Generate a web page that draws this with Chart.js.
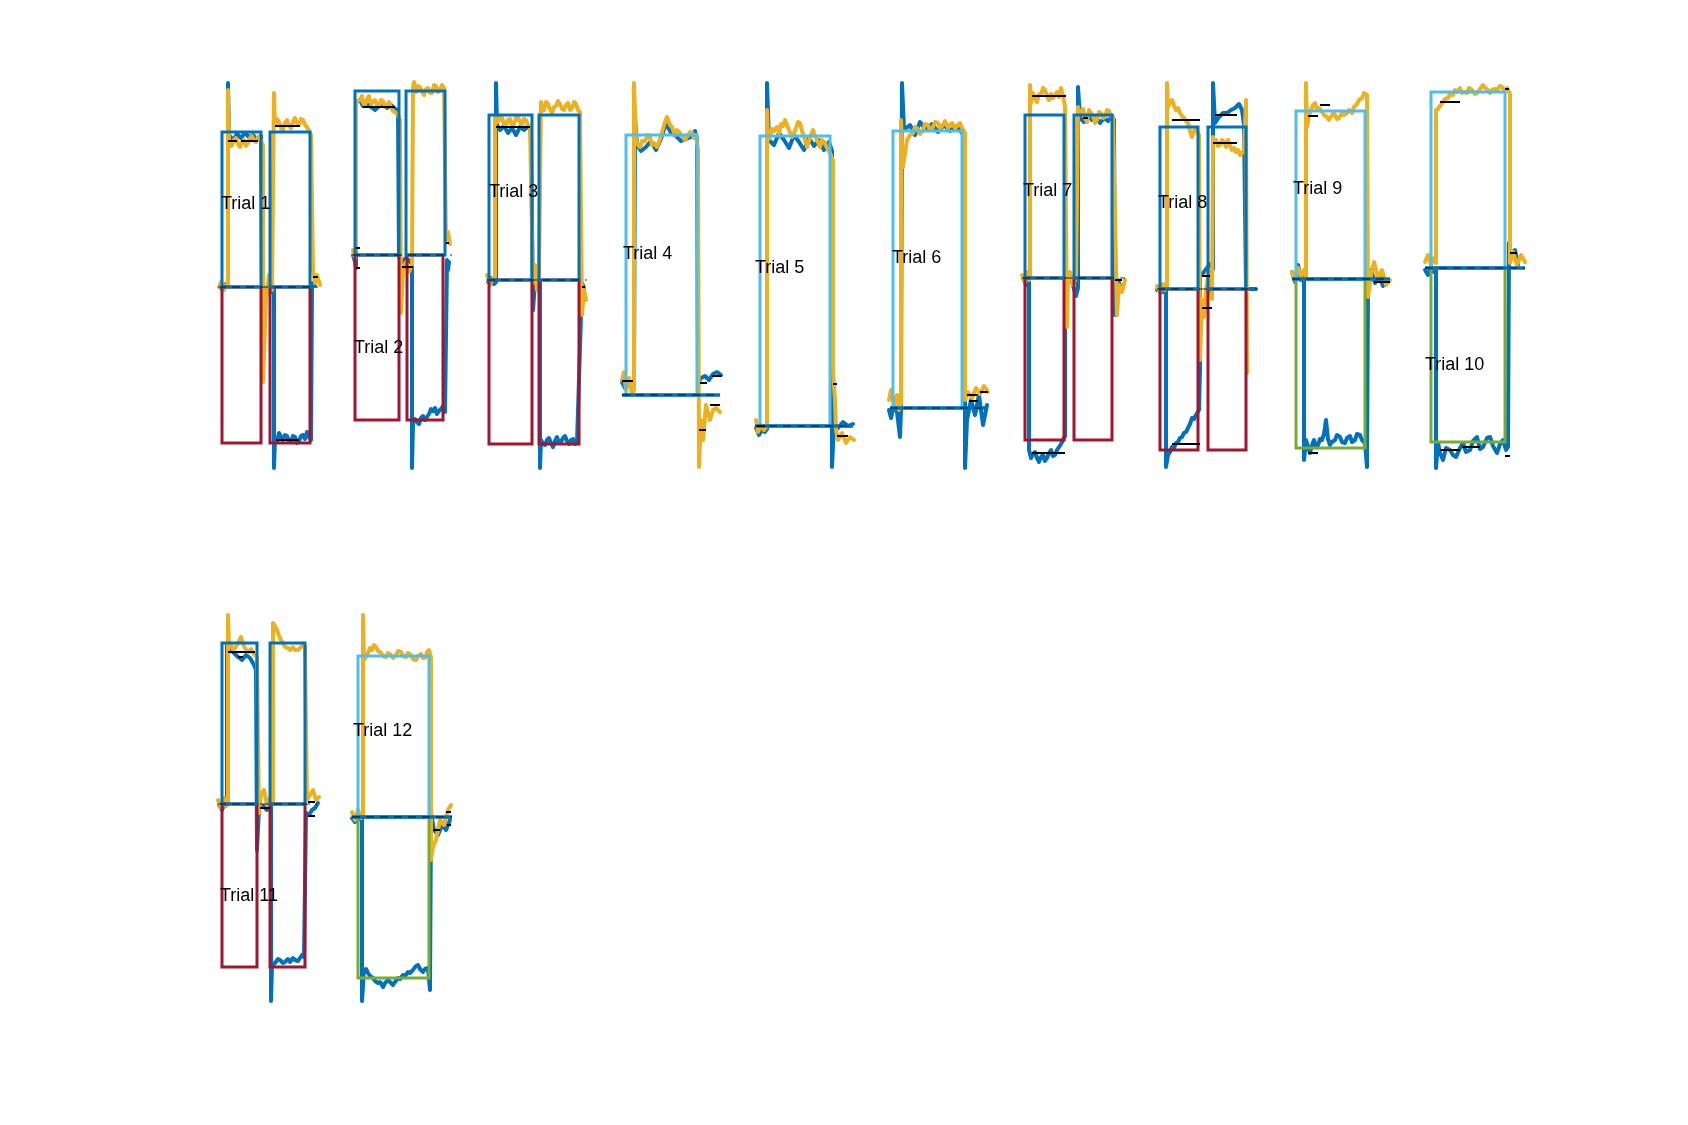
<!DOCTYPE html>
<html><head><meta charset="utf-8">
<script src="https://cdn.jsdelivr.net/npm/chart.js@4.4.1/dist/chart.umd.min.js"></script>
<style>
html,body{margin:0;padding:0;background:#fff;}
#fig{position:relative;width:1688px;height:1125px;overflow:hidden;background:#fff;}
.ax{position:absolute;}
.lbl{position:absolute;font-family:"Liberation Sans",Arial,Helvetica,sans-serif;font-size:18px;line-height:18px;color:#000;white-space:nowrap;}
</style></head><body><div id="fig"></div>
<script>
// ---------------- DATA (x: samples from trial start, y: eye position in deg re fixation) ----------------
const trialNames = ['Trial 1','Trial 2','Trial 3','Trial 4','Trial 5','Trial 6','Trial 7','Trial 8','Trial 9','Trial 10','Trial 11','Trial 12'];
const labelAnchor = [[3,8.4],[2,-9.2],[2,8.9],[1,14.2],[0,15.9],[2,15.1],[1,8.8],[1,8.7],[1,9.1],[0,-9.6],[2,-9.1],[1,8.7]];
const baselineSpan = [[0,100],[0,100],[0,100],[0,98],[0,98],[0,98],[0,103],[0,100],[0,98],[0,100],[0,99],[0,100]];
const baselineType = ['dashed','dashed','dashed','band','band','band','dashed','dashed','band','band','dashed','band'];

// boxes: [startSample, endSample, lowDeg, highDeg, window type]
const t1Boxes = [[4,43,0,15.5,'up2'],[4,43,-15.6,0,'down2'],[52,92,0,15.5,'up2'],[52,92,-15.6,0,'down2']];
const t1Orange = [[1,0],[3,0.5],[6,-0.3],[8,0.2],[10,0.2],[10,19.7],[11,14.7],[13,14.1],[14,14.2],[16,14.7],[18,14.9],[20,14.3],[22,14],[24,14.5],[26,14.7],[28,14.1],[30,14.4],[32,14.9],[34,15.1],[36,14.6],[38,14.5],[40,15.0],[42,14.9],[45,14.2],[45,-9.5],[48,-1.3],[51,1.2],[54,-0.3],[56,19.4],[57,16.2],[59,16.8],[61,16.5],[63,15.9],[65,15.7],[67,16.4],[69,16.7],[71,16.1],[73,15.9],[75,16.5],[77,16.9],[79,16.4],[81,16.2],[83,16.8],[85,16.7],[87,16.2],[89,16],[91,15.6],[93,15.2],[95,1.7],[97,0.4],[99,1.2],[102,0.2]];
const t1Blue = [[2,0],[5,-0.3],[8,0.3],[10,0.2],[10,20.4],[11,15.2],[15,14.7],[19,15.3],[23,14.9],[27,15.4],[31,15],[35,15.2],[39,14.7],[43,15.1],[44,0],[46,-1.1],[50,0.2],[53,-0.5],[56,-0.1],[56,-18.1],[57,-15.1],[59,-15.5],[61,-14.6],[63,-15.0],[65,-15.3],[67,-14.8],[69,-14.9],[71,-15.4],[73,-15.5],[75,-14.9],[77,-15],[79,-15.6],[81,-15.4],[83,-14.9],[85,-14.8],[87,-15.2],[89,-14.5],[91,-15.0],[93,-15.3],[94,0.4],[97,0.1]];
const t1Marks = [[10,19,14.6],[23,40,14.6],[57,82,16.1],[58,81,-15.3],[95,100,1.0]];

const t2Boxes = [[3,47,0,16.4,'up2'],[3,47,-16.5,0,'down2'],[54,93,0,16.4,'up2'],[55,91,-16.5,0,'down2']];
const t2Orange = [[1,0.5],[3,-0.3],[4,0.8],[4,15.4],[8,15.5],[10,15.9],[11,15.2],[13,15.0],[15,15.6],[17,15.9],[19,15.1],[21,15.3],[23,15.5],[25,15.0],[27,14.9],[29,15.5],[31,15.4],[33,14.8],[35,15],[37,15.3],[39,14.7],[41,14.4],[43,14.3],[46,14],[48,13.5],[49,-5.8],[51,-1.5],[54,-0.7],[57,-1.7],[60,-1],[61,16.8],[62,17.3],[64,16.3],[66,16.9],[68,16.8],[70,16.3],[72,16],[74,16.6],[76,16.7],[78,16.2],[80,16.2],[82,17.0],[84,16.9],[86,16.3],[88,16.5],[90,17.0],[92,16.7],[94,1.5],[96,2.3],[98,1.1]];
const t2Blue = [[1,0],[3,-0.7],[4,-1.3],[4,15.3],[8,15.5],[11,14.9],[15,15.1],[19,14.8],[23,14.5],[27,14.9],[31,15.2],[35,14.7],[39,15],[43,14.6],[46,14.5],[47,-0.2],[50,-0.7],[54,-0.3],[58,-0.7],[60,-0.5],[60,-21.3],[61,-16.8],[63,-16.4],[65,-16.7],[67,-16.9],[69,-16.3],[71,-16.1],[73,-16.5],[75,-16.2],[77,-15.9],[79,-15.4],[81,-15.6],[83,-15.3],[85,-15.9],[87,-15.6],[89,-15.4],[91,-15.1],[93,-15.7],[95,-0.5],[96,-1.5],[97,-0.7]];
const t2Marks = [[11,43,14.8],[4,8,0.7],[4,8,-1.3],[50,61,-1.2],[94,97,1.2]];

const t3Boxes = [[2,45,0,16.5,'up2'],[2,45,-16.4,0,'down2'],[52,92,0,16.5,'up2'],[52,92,-16.4,0,'down2']];
const t3Orange = [[0,0.5],[3,-0.5],[6,0.2],[8,0.3],[8,16.3],[11,15.8],[13,16.4],[15,16.2],[17,15.6],[19,15.4],[21,16.0],[23,16.1],[25,15.5],[27,15.6],[29,16.2],[31,16.3],[33,15.8],[35,15.5],[37,16.1],[39,16],[41,15.5],[43,15.3],[46,-0.3],[48,1.5],[50,-1],[52,0.5],[54,17.8],[55,17.2],[57,17],[59,17.8],[61,17.6],[63,17.1],[65,16.7],[67,17.3],[69,17.4],[71,17.9],[73,17.6],[75,17.1],[77,17],[79,17.5],[81,17.7],[83,17.0],[85,17.2],[87,17.8],[89,17.6],[91,17.0],[93,16.8],[95,-3.5],[97,-1],[99,-2]];
const t3Blue = [[1,-0.2],[4,0.2],[7,-0.4],[9,-0.2],[9,19.7],[10,15.5],[13,15],[17,15.4],[21,14.7],[25,15.2],[29,14.5],[33,15.3],[37,15],[41,15.4],[44,14.8],[46,-3],[48,-0.2],[51,-0.5],[53,-0.3],[53,-18.8],[54,-16],[56,-16.4],[58,-16.5],[60,-16.0],[62,-15.8],[64,-16.3],[66,-16.7],[68,-16.1],[70,-15.7],[72,-16.3],[74,-16.2],[76,-15.8],[78,-15.6],[80,-16.1],[82,-16.4],[84,-16.0],[86,-15.9],[88,-16.4],[90,-16.3],[95,-0.3],[97,-0.8]];
const t3Marks = [[9,43,15.3],[95,98,-0.7]];

const t4Boxes = [[4,75,0,26,'up1']];
const t4Orange = [[0,1.5],[2,2.3],[4,0.5],[7,1.7],[10,0],[12,0.5],[12,31.2],[14,25.5],[16,25.0],[18,24.8],[20,25.4],[23,25.4],[26,26.0],[28,25.8],[30,25.0],[32,25.2],[35,24.8],[38,25.6],[40,26.3],[43,27.3],[45,27.8],[48,27.0],[50,26.8],[53,26.0],[55,26.5],[58,26.2],[60,25.9],[63,25.5],[65,25.8],[68,26.3],[70,26.2],[72,25.7],[74,26],[76,24.5],[77,-7.2],[79,-2.5],[81,-4.5],[84,-1],[88,-2.5],[91,-1.5],[94,-1.3],[98,-1.7]];
const t4Blue = [[0,1.3],[3,0.7],[6,1.5],[9,0.9],[12,0.7],[13,27.7],[15,25],[19,24.4],[24,24.8],[29,25.4],[34,24.5],[39,25.6],[44,27.2],[49,26.2],[54,25.9],[59,25.4],[64,25.6],[69,25.8],[73,26.4],[75,25.5],[76,1.2],[79,1.7],[83,1.9],[87,1.5],[91,2.1],[95,2.3],[99,2]];
const t4Marks = [[0,11,1.4],[78,85,1.2],[90,100,1.9],[88,98,-1],[77,84,-3.5]];

const t5Boxes = [[5,75,0,29,'up1']];
const t5Orange = [[1,0.6],[3,-0.6],[6,0.1],[9,-0.4],[12,0],[12,31.6],[13,28.6],[15,28.9],[17,29.7],[19,29.5],[22,29.9],[24,29.3],[26,30.2],[28,30.0],[30,30.6],[32,30.1],[34,29.6],[37,28.9],[39,29.3],[41,29.8],[43,30.4],[45,30.3],[47,29.5],[49,28.9],[52,27.9],[55,28.8],[58,29.6],[60,29.0],[62,28.6],[65,27.9],[67,28.6],[70,28.3],[72,27.8],[75,27.3],[78,26.5],[78,5.4],[80,2.6],[81,-0.4],[83,-1.4],[87,-0.7],[91,-1.7],[95,-1.1],[99,-1.4]];
const t5Blue = [[1,-0.2],[4,-0.9],[7,-0.4],[10,-0.6],[12,-0.3],[12,34.3],[14,28.6],[19,28.1],[24,29.3],[29,28.6],[34,27.8],[39,29.1],[44,28.4],[49,27.6],[54,28.8],[59,28],[64,28.6],[69,27.6],[74,28.4],[77,27.5],[77,-4.1],[79,0.2],[83,-0.2],[88,0.4],[93,0],[98,0.2]];
const t5Marks = [[2,10,0],[78,82,4.2],[82,93,-1]];

const t6Boxes = [[3,72,0,27.7,'up1']];
const t6Orange = [[-1,0.8],[1,1.8],[4,0.3],[7,1.3],[9,-0.2],[11,0.5],[11,28.8],[13,24.1],[15,25.5],[17,26.8],[20,27.3],[23,27.5],[25,28.1],[28,27.9],[30,27.4],[33,27.8],[35,28.4],[38,28.3],[40,27.8],[43,28.1],[45,28.6],[48,28.5],[50,28.0],[53,28.3],[55,28.7],[58,28],[60,28.3],[62,28.5],[65,28.0],[67,28.2],[70,28.5],[72,28],[75,27.5],[75,0.8],[78,1.6],[82,1],[86,2],[90,1.4],[94,2.2],[98,1.6]];
const t6Blue = [[-1,-0.2],[1,-1],[4,0.3],[7,-0.4],[10,-2.9],[11,-0.2],[12,32.5],[14,27.8],[20,28.3],[25,27.3],[30,28.6],[36,27.8],[42,28.4],[48,27.6],[54,28.3],[60,27.7],[66,28.2],[72,27.5],[75,27],[75,-6],[77,-1.2],[81,0.8],[85,-0.7],[89,1.3],[93,-1.7],[97,0.3]];
const t6Marks = [[77,87,1.3],[90,98,1.6],[79,88,0.7]];

const t7Boxes = [[3,42,0,16.3,'up2'],[3,42,-16.2,0,'down2'],[52,90,0,16.3,'up2'],[52,90,-16.2,0,'down2']];
const t7Orange = [[0,0.3],[3,-0.4],[5,0.6],[7,-0.2],[8,0],[8,19.3],[9,17.5],[11,18.5],[13,18.0],[15,17.6],[17,18.4],[19,18.3],[21,19.0],[23,18.8],[25,18.2],[27,17.8],[29,18.4],[31,18],[33,18.3],[35,18.6],[37,18.1],[39,19],[41,18.2],[43,17.1],[45,-4.9],[46,-0.4],[48,0.6],[51,-0.7],[54,0],[56,17.1],[57,16.3],[59,16.6],[61,16.9],[63,16],[65,15.6],[67,16.8],[69,16.5],[71,16.2],[73,15.5],[75,15.8],[77,16.6],[79,16.5],[81,16.0],[83,16.1],[85,16.8],[87,16.7],[89,16.2],[91,16],[95,-3.7],[97,-0.7],[100,-1.4],[103,-0.2]];
const t7Blue = [[1,0],[4,-0.7],[6,0.3],[7,-0.2],[7,-17.2],[9,-18],[11,-17.6],[13,-17.4],[15,-18.0],[17,-18.4],[19,-17.9],[21,-17.7],[23,-18.3],[25,-18],[27,-17.5],[29,-17.2],[31,-17.8],[33,-17.7],[35,-17.2],[37,-16.9],[39,-16.6],[41,-16.2],[43,-15.8],[43,-0.2],[46,0.3],[50,-0.4],[54,-1.8],[56,-1],[56,19.1],[58,16],[62,15.6],[66,16.3],[70,15.8],[74,16.1],[78,15.5],[82,16],[86,15.7],[90,16.2],[92,15.8],[93,-3.7],[96,-0.2],[99,-1]];
const t7Marks = [[10,44,18.2],[61,66,16],[10,43,-17.5],[93,100,-0.2]];

const t8Boxes = [[3,41,0,16.2,'up2'],[3,41,-16.1,0,'down2'],[51,89,0,16.2,'up2'],[51,89,-16.1,0,'down2']];
const t8Orange = [[0,0.3],[3,-0.4],[6,0.5],[8,-0.1],[10,0.2],[10,20.6],[11,18.2],[13,18.7],[15,18.9],[17,18.3],[19,17.9],[21,18.1],[23,17.6],[25,17.3],[27,17.1],[29,16.8],[31,16.6],[33,15.8],[35,15.2],[37,15.8],[39,16.1],[41,15.6],[42,15.4],[43,-7.1],[45,-1.1],[47,-2.8],[49,-0.1],[52,1.9],[55,-1],[56,15.2],[57,14.6],[59,14.9],[61,14.3],[63,14.4],[65,14.9],[67,14.7],[69,14.2],[71,14.9],[73,14.3],[75,13.9],[77,14.1],[79,13.7],[81,13.9],[83,13.4],[85,13.6],[87,13.9],[89,18.9],[90,-8.4]];
const t8Blue = [[0,-0.1],[3,0.2],[6,-0.3],[9,0],[9,-17.8],[11,-16.6],[13,-16.3],[15,-15.8],[17,-15.9],[19,-15.4],[21,-15.3],[23,-14.9],[25,-14.8],[27,-14.4],[29,-14.3],[31,-13.9],[33,-13.5],[35,-12.9],[37,-13.0],[39,-12.6],[42,-12.1],[43,-8.1],[43,1.4],[46,1.6],[50,2.1],[53,2.5],[56,2],[56,20.6],[58,16.6],[62,17.2],[66,17.6],[70,17.6],[74,17.9],[78,18.1],[82,18.5],[85,17.9],[87,16.4],[89,0],[93,0],[99,0]];
const t8Marks = [[15,43,16.9],[58,80,17.4],[56,80,14.6],[45,53,1.3],[45,55,-1.9],[15,43,-15.5]];

const t9Boxes = [[4,73,0,16.8,'up1'],[4,73,-16.9,0,'down1']];
const t9Orange = [[0,0.7],[3,-0.1],[6,1.1],[9,0.3],[12,0.9],[14,0.2],[14,19.6],[15,15.2],[17,16.3],[19,16.9],[21,17.4],[23,17.6],[25,17.0],[27,17.1],[30,16.7],[32,16.4],[35,16.2],[37,15.9],[40,16.4],[42,16.6],[45,16.0],[47,16.1],[50,16.6],[52,16.4],[55,16.6],[57,16.9],[60,16.6],[62,17.2],[65,17.5],[67,17.9],[70,18.1],[72,18.6],[75,18.4],[76,-1.8],[79,0.4],[82,1.7],[86,0.1],[90,0.9],[94,-0.6],[98,-0.1]];
const t9Blue = [[0,0.7],[3,-0.3],[6,1.4],[9,-0.1],[11,0.4],[12,-0.2],[12,-18.1],[14,-16.1],[16,-16.8],[18,-17.4],[20,-16.6],[22,-16.1],[24,-16.8],[26,-16.6],[28,-16.0],[30,-16.1],[32,-15.5],[34,-14.1],[36,-16.0],[38,-16.6],[40,-16.3],[43,-16.1],[45,-15.6],[48,-15.8],[50,-16.3],[53,-16.4],[55,-15.9],[58,-15.7],[60,-16.3],[63,-16.1],[65,-15.5],[68,-15.6],[70,-16.1],[73,-16.4],[75,-18.8],[76,-0.6],[79,0.9],[83,-0.4],[87,0.4],[91,-0.7],[95,-0.1]];
const t9Marks = [[16,26,16.3],[28,38,17.4],[16,26,-17.4],[82,98,-0.3]];

const t10Boxes = [[6,80,0,17.6,'up1'],[6,80,-17.4,0,'down1']];
const t10Orange = [[0,0.6],[3,1.3],[6,0.3],[9,1],[11,0.5],[11,15.8],[12,15.8],[15,16.2],[18,16.6],[20,16.9],[23,17],[25,17.4],[28,17.3],[30,17.8],[32,17.6],[35,18],[37,17.5],[39,17.6],[42,17.5],[44,18.0],[47,17.8],[50,17.4],[52,17.5],[55,17.9],[58,18.3],[60,18.0],[62,17.9],[65,17.5],[67,17.8],[69,17.9],[72,17.8],[75,18.2],[77,18.1],[80,17.7],[82,18],[85,17.4],[85,0.5],[88,1.6],[92,0.3],[96,1.3],[100,0.6]];
const t10Blue = [[0,-0.2],[3,-0.7],[6,0],[9,-0.4],[11,-0.2],[11,-20],[13,-17.5],[15,-18.5],[18,-19.2],[21,-18.0],[25,-18.2],[28,-18.7],[31,-18.9],[35,-18.0],[38,-17.5],[41,-18.4],[45,-18.2],[48,-17.3],[52,-16.9],[55,-18.1],[58,-17.9],[62,-17.0],[65,-16.9],[68,-17.8],[72,-18.5],[75,-17.6],[78,-17.2],[81,-18.2],[83,-17.9],[84,2.5],[87,1],[90,1.8],[93,0.3]];
const t10Marks = [[15,35,16.6],[80,84,17.9],[85,92,1.5],[15,35,-18.2],[37,55,-17.9],[80,85,-18.8]];

const t11Boxes = [[4,39,0,16.1,'up2'],[4,39,-16.3,0,'down2'],[52,87,0,16.1,'up2'],[52,87,-16.3,0,'down2']];
const t11Orange = [[0,0.4],[3,-0.4],[6,0.6],[8,-0.2],[10,0],[10,18.9],[11,15.7],[13,15.9],[15,15.4],[17,15.6],[19,15.9],[21,16.3],[23,16.7],[25,16.0],[27,15.6],[29,15.3],[31,15.2],[33,15.5],[35,15.1],[37,14.9],[39,14.7],[41,-0.9],[43,0.9],[46,1.4],[49,-0.1],[52,0.6],[55,0],[55,18.1],[57,17.8],[59,17.4],[61,16.8],[63,16.4],[65,16.1],[67,15.7],[70,15.6],[72,15.4],[75,15.7],[77,15.4],[80,15.4],[82,15.6],[85,15.9],[87,15.7],[89,0.4],[92,0.9],[95,1.4],[98,0.4],[101,0.7]];
const t11Blue = [[1,-0.1],[4,-0.6],[7,0.1],[9,0],[9,15.9],[12,15.4],[16,15.1],[20,14.7],[24,14.4],[28,14.9],[32,14.6],[36,13.9],[38,13.4],[39,-4.6],[41,-0.4],[45,-0.2],[49,-0.6],[53,-0.3],[53,-19.7],[54,-16.1],[57,-15.9],[60,-15.5],[62,-15.6],[65,-15.9],[67,-15.8],[70,-15.5],[72,-15.8],[75,-15.4],[77,-15.6],[80,-15.7],[82,-15.4],[84,-15.1],[86,-15.3],[88,-0.9],[91,-1.1],[94,-0.6],[97,-0.4],[100,0.1]];
const t11Marks = [[10,37,15.2],[20,25,14.7],[42,52,-0.4],[90,97,0.2],[90,97,-1.2]];

const t12Boxes = [[6,77,0,16.1,'up1'],[6,77,-16.1,0,'down1']];
const t12Orange = [[0,0.5],[3,-0.3],[6,0.7],[9,-0.1],[11,0],[11,20.2],[12,15.7],[14,16.0],[16,16.4],[18,16.9],[20,16.7],[22,17.2],[24,17],[26,16.6],[29,16.4],[31,16.1],[34,16],[36,16.4],[39,16.2],[41,15.9],[44,16.2],[46,16.6],[49,16.5],[51,16.1],[54,16],[56,16.4],[59,16.2],[61,15.8],[64,15.7],[66,16.1],[69,16.3],[71,15.9],[74,16],[75,16.5],[77,16.7],[79,16],[79,-4.3],[81,-3],[84,-2.3],[88,-0.3],[92,-0.8],[96,0.7],[99,1.2]];
const t12Blue = [[0,-0.1],[3,-0.5],[6,0.2],[9,-0.3],[10,0],[10,-18.4],[12,-15.3],[14,-15.2],[16,-15.6],[18,-15.9],[21,-16.1],[23,-16.4],[26,-16.6],[28,-16.5],[31,-17],[33,-16.6],[36,-16.3],[38,-16.5],[41,-16.8],[43,-16.5],[46,-16.1],[48,-16.2],[51,-15.8],[53,-15.9],[56,-15.5],[58,-15.6],[61,-15.3],[63,-15.0],[66,-14.8],[68,-15.2],[71,-15.5],[73,-15.2],[76,-15.1],[78,-17.3],[79,0.4],[82,-1.3],[86,-1.8],[90,-0.8],[94,-1.3],[98,-0.3]];
const t12Marks = [[81,88,-1.3],[94,99,0.5],[95,99,-0.8]];

// ---------------- LAYOUT (subplot placement on the page) ----------------
const axesOrigin = [[218,287],[352,255],[487,280],[622,395],[755,426],[890,408],[1022,278],[1157,289],[1292,279],[1425,268],[218,804],[352,817]];
const axesTop = [76,76,76,76,76,76,76,76,76,76,606,606];
const AX_W = 130, AX_H = 400, PAD_S = 12, PX_PER_DEG = 10;

// ---------------- STYLE ----------------
const C = {blue:'#0072BD', orange:'#EDB120', dash:'rgba(0,0,0,0.55)', mark:'#000000'};
const BOX_COLOR = {up2:'#0072BD', down2:'#A2142F', up1:'#4DBEEE', down1:'#77AC30'};
const TRACE_W = 4, BOX_W = 3;

const trials = [
  {orange:t1Orange, blue:t1Blue, boxes:t1Boxes, marks:t1Marks},
  {orange:t2Orange, blue:t2Blue, boxes:t2Boxes, marks:t2Marks},
  {orange:t3Orange, blue:t3Blue, boxes:t3Boxes, marks:t3Marks},
  {orange:t4Orange, blue:t4Blue, boxes:t4Boxes, marks:t4Marks},
  {orange:t5Orange, blue:t5Blue, boxes:t5Boxes, marks:t5Marks},
  {orange:t6Orange, blue:t6Blue, boxes:t6Boxes, marks:t6Marks},
  {orange:t7Orange, blue:t7Blue, boxes:t7Boxes, marks:t7Marks},
  {orange:t8Orange, blue:t8Blue, boxes:t8Boxes, marks:t8Marks},
  {orange:t9Orange, blue:t9Blue, boxes:t9Boxes, marks:t9Marks},
  {orange:t10Orange, blue:t10Blue, boxes:t10Boxes, marks:t10Marks},
  {orange:t11Orange, blue:t11Blue, boxes:t11Boxes, marks:t11Marks},
  {orange:t12Orange, blue:t12Blue, boxes:t12Boxes, marks:t12Marks}
];

const fig = document.getElementById('fig');
const pts = a => a.map(p => ({x:p[0], y:p[1]}));
function lineDs(data, color, width, order, extra){
  return Object.assign({data:pts(data), showLine:true, borderColor:color, backgroundColor:color,
    borderWidth:width, pointRadius:0, pointHoverRadius:0, tension:0, fill:false, clip:false,
    order:order, borderJoinStyle:'round', borderCapStyle:'round'}, extra || {});
}

trials.forEach((tr, i) => {
  const ox = axesOrigin[i][0], oy = axesOrigin[i][1];
  const top = axesTop[i];
  const left = ox - PAD_S;
  const cv = document.createElement('canvas');
  cv.width = AX_W; cv.height = AX_H; cv.className = 'ax';
  cv.style.left = left + 'px'; cv.style.top = top + 'px';
  cv.style.width = AX_W + 'px'; cv.style.height = AX_H + 'px';
  fig.appendChild(cv);

  const ds = [];
  ds.push(lineDs(tr.blue, C.blue, TRACE_W, 50));
  ds.push(lineDs(tr.orange, C.orange, TRACE_W, 40));
  tr.boxes.forEach(b => ds.push(lineDs([[b[0],b[2]],[b[1],b[2]],[b[1],b[3]],[b[0],b[3]],[b[0],b[2]]],
      BOX_COLOR[b[4]], BOX_W, 30, {borderJoinStyle:'miter', borderCapStyle:'square'})));
  const s0 = baselineSpan[i][0], s1 = baselineSpan[i][1];
  if (baselineType[i] === 'band') ds.push(lineDs([[s0,0],[s1,0]], C.blue, 3.5, 20, {borderCapStyle:'butt'}));
  ds.push(lineDs([[s0,0],[s1,0]], C.dash, 1.6, 10, {borderDash:[8,6], borderCapStyle:'butt'}));
  tr.marks.forEach(m => ds.push(lineDs([[m[0],m[2]],[m[1],m[2]]], C.mark, 2, 0, {borderCapStyle:'butt'})));

  const chart = new Chart(cv, {
    type:'scatter',
    data:{datasets:ds},
    options:{
      responsive:false, animation:false, devicePixelRatio:1, events:[],
      layout:{padding:0},
      plugins:{legend:{display:false}, tooltip:{enabled:false}, title:{display:false}},
      scales:{
        x:{type:'linear', display:false, min:-PAD_S, max:AX_W - PAD_S},
        y:{type:'linear', display:false, min:(oy - top - AX_H)/PX_PER_DEG, max:(oy - top)/PX_PER_DEG}
      }
    }
  });

  const lb = document.createElement('div');
  lb.className = 'lbl';
  lb.textContent = trialNames[i];
  const px = chart.scales.x.getPixelForValue(labelAnchor[i][0]) + left;
  const py = chart.scales.y.getPixelForValue(labelAnchor[i][1]) + top;
  lb.style.left = px + 'px';
  lb.style.top = (py - 9) + 'px';
  fig.appendChild(lb);
});
</script></body></html>
